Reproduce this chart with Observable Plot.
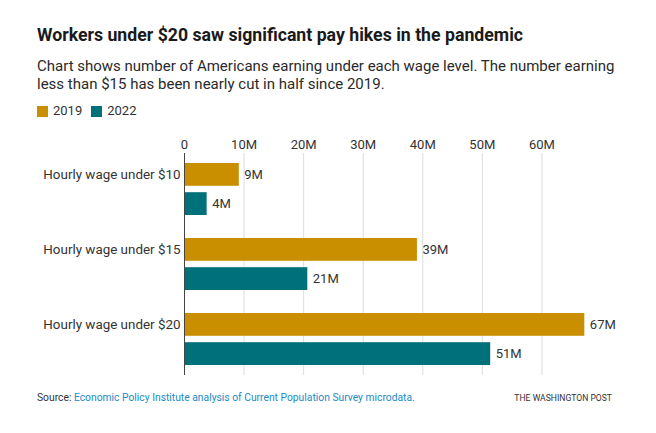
<!DOCTYPE html>
<html>
<head>
<meta charset="utf-8">
<script src="https://cdn.jsdelivr.net/npm/d3@7"></script>
<script src="https://cdn.jsdelivr.net/npm/@observablehq/plot@0.6"></script>
<style>
  html, body { margin: 0; padding: 0; background: #fff; }
  body { font-family: Roboto, "Noto Sans", sans-serif; color: #222; width: 656px; }
  .head { padding-left: 37px; }
  .title { font-size: 17.7px; font-weight: 700; line-height: 22px; padding-top: 24px; color: #1a1a1a; }
  .sub { font-size: 15px; line-height: 18px; margin-top: 11px; color: #2a2a2a; width: 585px; }
  .legend { margin-top: 10px; height: 16px; font-size: 13px; line-height: 16px; color: #333; display: flex; align-items: center; }
  .legend span.sw { display: inline-block; width: 11px; height: 11px; margin-right: 5px; }
  .legend span.item { display: inline-flex; align-items: center; margin-right: 9px; }
  #chart { margin-top: 6px; height: 255px; }
  #chart svg { display: block; }
  .foot { display: flex; justify-content: space-between; align-items: center; padding: 0 44px 0 37px; font-size: 10.3px; margin-top: 11px; color: #333; }
  .foot a { color: #1a8bc7; text-decoration: none; }
  .foot .wp { font-size: 8.6px; }
</style>
</head>
<body>
<div class="head">
  <div class="title">Workers under $20 saw significant pay hikes in the pandemic</div>
  <div class="sub">Chart shows number of Americans earning under each wage level. The number earning less than $15 has been nearly cut in half since 2019.</div>
  <div class="legend" id="legend"></div>
</div>
<div id="chart"></div>
<div class="foot"><div>Source: <a>Economic Policy Institute analysis of Current Population Survey microdata.</a></div><div class="wp">THE WASHINGTON POST</div></div>
<script>
const categories = ["Hourly wage under $10", "Hourly wage under $15", "Hourly wage under $20"];
const years = ["2019", "2022"];
const values2019 = [9.2, 39.1, 67.2];
const values2022 = [3.8, 20.7, 51.4];
const xTicks = [0, 10, 20, 30, 40, 50, 60];
const colors = ["#c98f00", "#00707a"];

const data = [];
categories.forEach((c, i) => {
  data.push({cat: c, year: years[0], value: values2019[i]});
  data.push({cat: c, year: years[1], value: values2022[i]});
});
const d2019 = data.filter(d => d.year === years[0]);
const d2022 = data.filter(d => d.year === years[1]);

const legend = document.getElementById("legend");
years.forEach((y, i) => {
  const item = document.createElement("span");
  item.className = "item";
  item.innerHTML = `<span class="sw" style="background:${colors[i]}"></span>${y}`;
  legend.appendChild(item);
});

// bar thickness styling within each category band
const band = 52.7, barH = 23.5;
const inset = band - barH;
const shift = band / 2 - barH / 2;

const chart = Plot.plot({
  width: 656,
  height: 255,
  marginLeft: 184,
  marginRight: 55,
  marginTop: 28,
  marginBottom: 5,
  style: {fontFamily: "Roboto, 'Noto Sans', sans-serif", fontSize: "13px", color: "#333", background: "#fff"},
  x: {domain: [0, 70], axis: "top", ticks: xTicks, tickFormat: d => d === 0 ? "0" : d + "M", tickSize: 0, tickPadding: 5, label: null},
  y: {domain: categories, paddingInner: 0.304, paddingOuter: 0.123, axis: null},
  color: {domain: years, range: colors},
  marks: [
    Plot.axisY({tickSize: 0, tickPadding: 4, dy: -shift, fontSize: 13.4, label: null}),
    Plot.ruleX(xTicks.slice(1), {stroke: "#dcdcdc", strokeWidth: 1}),
    Plot.barX(d2019, {y: "cat", x: "value", fill: "year", insetBottom: inset}),
    Plot.barX(d2022, {y: "cat", x: "value", fill: "year", insetTop: inset}),
    Plot.text(d2019, {y: "cat", x: "value", text: d => Math.round(d.value) + "M", textAnchor: "start", dx: 5, dy: -shift, fill: "#333", fontSize: 13}),
    Plot.text(d2022, {y: "cat", x: "value", text: d => Math.round(d.value) + "M", textAnchor: "start", dx: 5, dy: shift, fill: "#333", fontSize: 13}),
    Plot.ruleX([0], {stroke: "#444", strokeWidth: 1})
  ]
});
document.getElementById("chart").appendChild(chart);
</script>
</body>
</html>
